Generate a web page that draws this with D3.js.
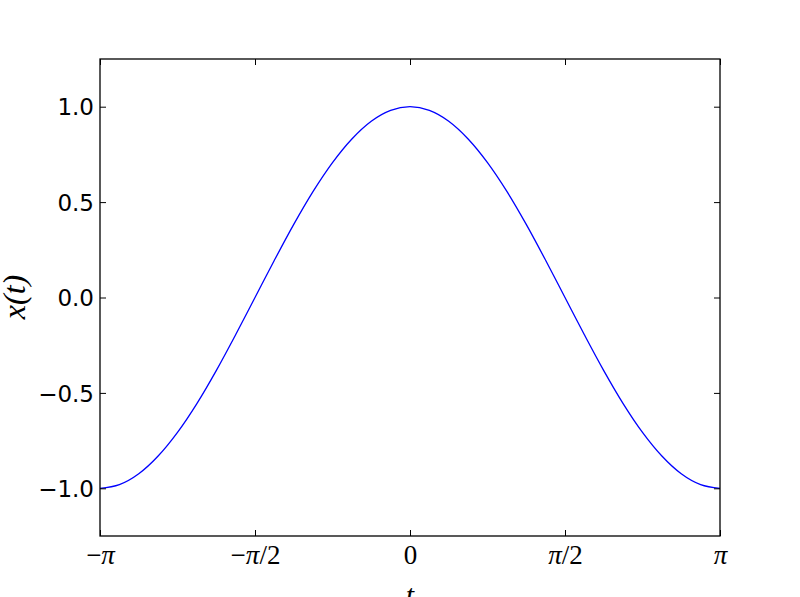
<!DOCTYPE html>
<html><head><meta charset="utf-8">
<script src="https://cdn.jsdelivr.net/npm/d3@7"></script>
<style>body{margin:0;background:#fff}svg{display:block}</style>
</head><body>
<svg id="c" width="800" height="597"></svg>
<script>
// sample positions t (in units of pi) and read values x(t)
const tPi = [-1,-0.9375,-0.875,-0.8125,-0.75,-0.6875,-0.625,-0.5625,-0.5,-0.4375,-0.375,-0.3125,-0.25,-0.1875,-0.125,-0.0625,0,
  0.0625,0.125,0.1875,0.25,0.3125,0.375,0.4375,0.5,0.5625,0.625,0.6875,0.75,0.8125,0.875,0.9375,1];
const xVals = [-1,-0.981,-0.924,-0.831,-0.707,-0.556,-0.383,-0.195,0,0.195,0.383,0.556,0.707,0.831,0.924,0.981,1,
  0.981,0.924,0.831,0.707,0.556,0.383,0.195,0,-0.195,-0.383,-0.556,-0.707,-0.831,-0.924,-0.981,-1];
const xTickPi = [-1,-0.5,0,0.5,1];
// each label as [prefix(upright), pi?, suffix(upright)]
const xTickLabels = [["\u2212",true,""],["\u2212",true,"/2"],["0",false,""],["",true,"/2"],["",true,""]];
const yTicks = [-1.0,-0.5,0.0,0.5,1.0];
const yTickLabels = ["\u22121.0","\u22120.5","0.0","0.5","1.0"];

const L=100,R=720,T=59,B=536;
const svg=d3.select("#c");
const x=d3.scaleLinear().domain([-Math.PI,Math.PI]).range([L,R]);
const y=d3.scaleLinear().domain([-1.25,1.25]).range([B,T]);
const data=tPi.map((p,i)=>({t:p*Math.PI,v:xVals[i]}));

svg.append("path").datum(data)
  .attr("fill","none").attr("stroke","#0000ff").attr("stroke-width",1.3)
  .attr("d",d3.line().x(d=>x(d.t)).y(d=>y(d.v)).curve(d3.curveMonotoneX));

const tk=6;
const xt=xTickPi.map(p=>p*Math.PI);
// bottom axis
const bx=svg.append("g").attr("transform",`translate(0,${B})`)
  .call(d3.axisBottom(x).tickValues(xt).tickSize(-tk).tickSizeOuter(0).tickFormat(""));
bx.select(".domain").remove();
bx.selectAll(".tick").each(function(d,i){
  const lab=xTickLabels[i];
  const t=d3.select(this).append("text").attr("y",28).attr("text-anchor","middle")
    .attr("font-family","'Liberation Serif', serif").attr("font-size",27).attr("fill","#000");
  if(lab[0]) t.append("tspan").text(lab[0]);
  if(lab[1]) t.append("tspan").attr("font-style","italic").text("\u03c0");
  if(lab[2]) t.append("tspan").text(lab[2]);
});
// top ticks
const tx=svg.append("g").attr("transform",`translate(0,${T})`)
  .call(d3.axisTop(x).tickValues(xt).tickSize(-tk).tickFormat(""));
tx.select(".domain").remove();
// left axis
const ly=svg.append("g").attr("transform",`translate(${L},0)`)
  .call(d3.axisLeft(y).tickValues(yTicks).tickSize(-tk).tickPadding(6).tickFormat((d,i)=>yTickLabels[i]));
ly.select(".domain").remove();
ly.selectAll("text").attr("font-family","'DejaVu Sans', sans-serif").attr("font-size",23).attr("fill","#000").attr("dy","0.36em");
// right ticks
const ry=svg.append("g").attr("transform",`translate(${R},0)`)
  .call(d3.axisRight(y).tickValues(yTicks).tickSize(-tk).tickFormat(""));
ry.select(".domain").remove();
svg.selectAll(".tick line").attr("stroke","#000").attr("stroke-width",1);

svg.append("rect").attr("x",L).attr("y",T).attr("width",R-L).attr("height",B-T)
  .attr("fill","none").attr("stroke","#000").attr("stroke-width",1.3);

svg.append("text").attr("x",410).attr("y",605).attr("text-anchor","middle")
  .attr("font-family","'Liberation Serif', serif").attr("font-style","italic").attr("font-size",30).text("t");
svg.append("text").attr("transform","translate(25,297) rotate(-90)").attr("text-anchor","middle")
  .attr("font-family","'Liberation Serif', serif").attr("font-style","italic").attr("font-size",32).text("x(t)");
</script>
</body></html>
